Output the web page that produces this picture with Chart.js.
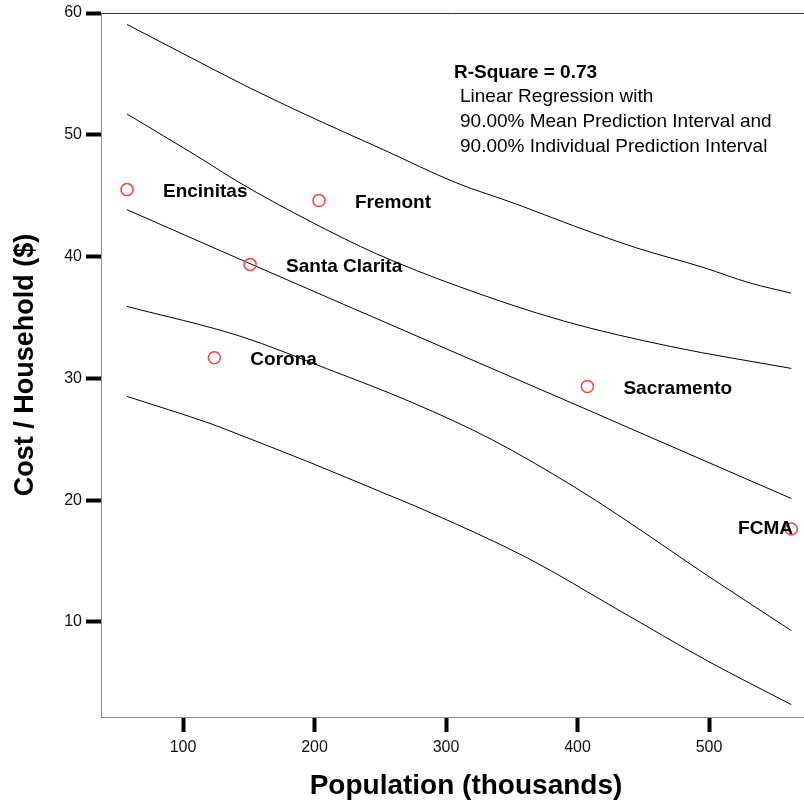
<!DOCTYPE html>
<html><head><meta charset="utf-8">
<script src="https://cdn.jsdelivr.net/npm/chart.js@4.4.1/dist/chart.umd.min.js"></script>
<style>html,body{margin:0;padding:0;background:#fff}#wrap{width:804px;height:802px;position:relative}</style>
</head><body><div id="wrap"><canvas id="c" width="804" height="802"></canvas></div>
<script>
// ---- data ----
const cities = ['Encinitas', 'Fremont', 'Santa Clarita', 'Corona', 'Sacramento', 'FCMA'];
const population = [57.4, 203.4, 151.0, 123.8, 407.5, 562.5];
const cost = [45.5, 44.6, 39.36, 31.7, 29.34, 17.64];

// fitted line
const fitX = [57.4, 143.3, 303.0, 404.4, 562.5];
const fitY = [43.85, 39.78, 32.3, 27.57, 20.14];
// 90% mean prediction interval
const meanUpperX = [57.4, 112.9, 143.3, 198.0, 247.3, 307.5, 389.5, 471.6, 562.5];
const meanUpperY = [51.71, 48.10, 46.05, 42.82, 40.22, 37.63, 34.71, 32.6, 30.82];
const meanLowerX = [57.4, 143.3, 209.0, 274.7, 334.8, 397.7, 430.6, 498.9, 562.5];
const meanLowerY = [35.91, 33.47, 30.81, 28.0, 24.98, 21.08, 18.8, 13.8, 9.3];
// 90% individual prediction interval
const indUpperX = [57.4, 97.7, 150.9, 201.7, 252.3, 307.5, 353.8, 397.7, 445.0, 496.2, 531.2, 562.5];
const indUpperY = [59.06, 56.8, 53.84, 51.24, 48.78, 46.07, 44.3, 42.50, 40.71, 39.09, 37.83, 37.0];
const indLowerX = [57.4, 120.5, 143.3, 198.0, 252.3, 280.2, 362.2, 430.6, 498.9, 562.5];
const indLowerY = [28.52, 26.3, 25.36, 23.03, 20.6, 19.35, 15.24, 11.02, 6.8, 3.22];

const xTicks = [100, 200, 300, 400, 500];
const yTicks = [10, 20, 30, 40, 50, 60];
const xTitle = 'Population (thousands)';
const yTitle = 'Cost / Household ($)';
const annotationLines = ['R-Square = 0.73', 'Linear Regression with', '90.00% Mean Prediction Interval and', '90.00% Individual Prediction Interval'];

// ---- chart ----
const FONT = '"Liberation Sans", Arial, Helvetica, sans-serif';
const zip = (xs, ys) => xs.map((x, i) => ({x: x, y: ys[i]}));
const curve = (xs, ys) => ({
  data: zip(xs, ys), showLine: true, pointRadius: 0, pointHoverRadius: 0,
  borderColor: '#000', borderWidth: 1, fill: false, cubicInterpolationMode: 'monotone', order: 1
});

const pointLabels = {
  id: 'pointLabels',
  afterDatasetsDraw(chart) {
    const ctx = chart.ctx, xs = chart.scales.x, ys = chart.scales.y, area = chart.chartArea;
    ctx.save();
    ctx.font = 'bold 19px ' + FONT;
    ctx.fillStyle = '#000';
    ctx.textBaseline = 'middle';
    ctx.textAlign = 'left';
    cities.forEach((name, i) => {
      const px = xs.getPixelForValue(population[i]);
      const py = ys.getPixelForValue(cost[i]);
      const w = ctx.measureText(name).width;
      let tx = px + 36, ty = py + 2;
      if (tx + w > area.right) { tx = area.right - 11 - w; ty = py; }
      ctx.fillText(name, tx, ty);
    });
    ctx.restore();
  },
  afterDraw(chart) {
    const ctx = chart.ctx, area = chart.chartArea;
    ctx.save();
    // top frame line
    ctx.strokeStyle = '#333';
    ctx.lineWidth = 1;
    ctx.beginPath();
    ctx.moveTo(area.left, area.top + 0.5);
    ctx.lineTo(area.right, area.top + 0.5);
    ctx.stroke();
    // annotation
    ctx.fillStyle = '#000';
    ctx.textBaseline = 'middle';
    ctx.textAlign = 'left';
    ctx.font = 'bold 19px ' + FONT;
    ctx.fillText(annotationLines[0], 454, 73);
    ctx.font = '19px ' + FONT;
    ctx.fillText(annotationLines[1], 460, 97);
    ctx.fillText(annotationLines[2], 460, 122);
    ctx.fillText(annotationLines[3], 460, 147);
    // x title
    ctx.font = 'bold 28px ' + FONT;
    ctx.textAlign = 'center';
    ctx.fillText(xTitle, 466, 786);
    ctx.restore();
  }
};

new Chart(document.getElementById('c'), {
  type: 'scatter',
  data: {
    datasets: [
      {
        data: zip(population, cost), pointStyle: 'circle', pointRadius: 6, pointHoverRadius: 6,
        pointBorderColor: '#ff4040', pointBackgroundColor: 'rgba(0,0,0,0)', pointBorderWidth: 1.5,
        showLine: false, order: 0, clip: false
      },
      curve(indUpperX, indUpperY),
      curve(meanUpperX, meanUpperY),
      curve(fitX, fitY),
      curve(meanLowerX, meanLowerY),
      curve(indLowerX, indLowerY)
    ]
  },
  options: {
    responsive: false,
    animation: false,
    devicePixelRatio: 1,
    layout: {autoPadding: false, padding: {top: 13, right: 0, bottom: 0, left: 0}},
    plugins: {legend: {display: false}, tooltip: {enabled: false}},
    events: [],
    scales: {
      x: {
        type: 'linear', min: 37.64, max: 572.2,
        afterBuildTicks: s => { s.ticks = xTicks.map(v => ({value: v})); },
        afterFit: s => { s.height = 85; s.paddingLeft = 0; s.paddingRight = 0; },
        grid: {drawOnChartArea: false, drawTicks: true, tickLength: 15, tickWidth: 4, tickColor: '#000'},
        border: {display: true, color: '#8c8c8c', width: 1},
        ticks: {color: '#111', padding: 6, font: {family: FONT, size: 16}, maxRotation: 0},
        title: {display: false}
      },
      y: {
        type: 'linear', min: 2.2, max: 60,
        afterBuildTicks: s => { s.ticks = yTicks.map(v => ({value: v})); },
        afterFit: s => { s.width = 101; s.paddingTop = 0; s.paddingBottom = 0; },
        grid: {drawOnChartArea: false, drawTicks: true, tickLength: 15, tickWidth: 4, tickColor: '#000'},
        border: {display: true, color: '#8c8c8c', width: 1},
        ticks: {color: '#111', padding: 4, font: {family: FONT, size: 16}},
        title: {display: true, text: yTitle, color: '#000', font: {family: FONT, size: 27, weight: 'bold'}, padding: {top: 9, bottom: 9}}
      }
    }
  },
  plugins: [pointLabels]
});
</script>
</body></html>
